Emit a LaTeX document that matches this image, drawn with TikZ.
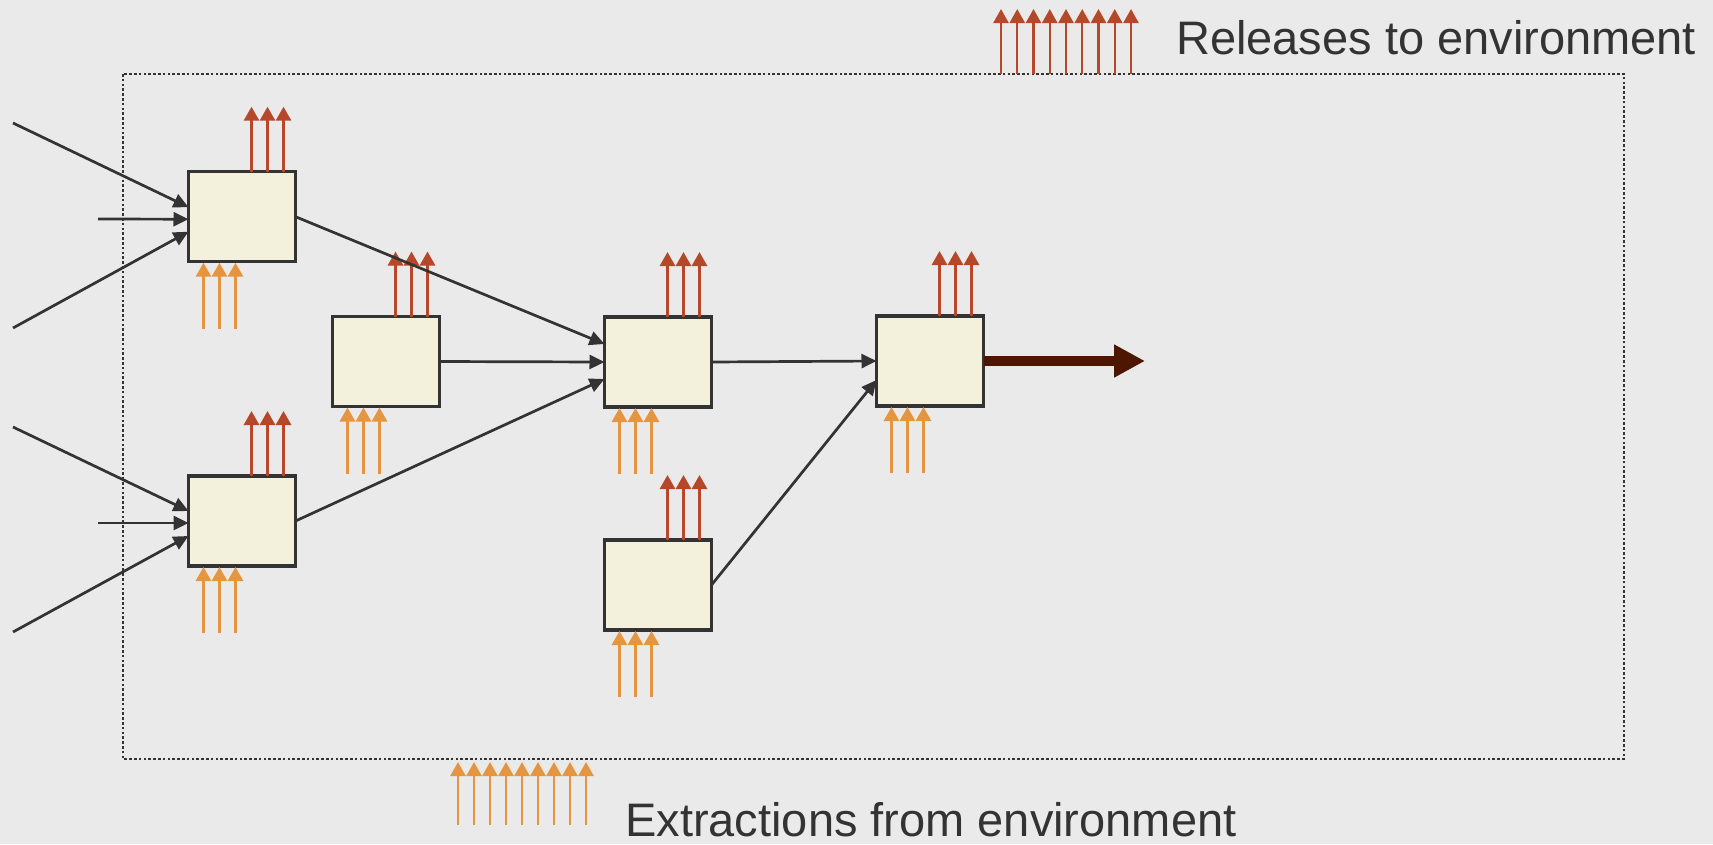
\documentclass[tikz,border=0pt]{standalone}
\usepackage{fontspec}
\setmainfont{Liberation Sans}
\usetikzlibrary{arrows.meta,calc}
\definecolor{bgc}{RGB}{234,234,234}
\definecolor{boxfill}{RGB}{243,241,220}
\definecolor{ink}{RGB}{51,51,51}
\definecolor{relc}{RGB}{181,71,42}
\definecolor{extc}{RGB}{229,148,64}
\definecolor{prodc}{RGB}{76,22,0}
\tikzset{
  procbox/.style={draw=ink, fill=boxfill, line width=3.2pt, minimum width=107pt, minimum height=90pt, inner sep=0pt, outer sep=0pt},
  flow/.style={draw=ink, line width=2.7pt, -{Triangle[length=15pt,width=14pt]}},
  rel/.style={draw=relc, line width=3pt, -{Triangle[length=14pt,width=15pt]}},
  ext/.style={draw=extc, line width=3pt, -{Triangle[length=14pt,width=15pt]}},
  rellegend/.style={draw=relc, line width=2.4pt, -{Triangle[length=14pt,width=15pt]}},
  extlegend/.style={draw=extc, line width=2.4pt, -{Triangle[length=14pt,width=15pt]}},
  product/.style={draw=prodc, line width=9.5pt, -{Triangle[length=31pt,width=31pt]}},
  boundary/.style={draw=ink, line width=2.6pt, dash pattern=on 2.6pt off 2.2pt},
  legendtext/.style={text=ink, inner sep=0pt, anchor=base west, font=\fontsize{47}{56}\selectfont}
}
\begin{document}
\begin{tikzpicture}[x=1pt,y=-1pt]
  \fill[bgc] (0,0) rectangle (1713,844);
  \useasboundingbox (0,0) rectangle (1713,844);

  % system boundary
  \draw[boundary] (123,74) rectangle (1624,759);

  % process boxes
  \node[procbox] (A1) at (242,216.7) {};
  \node[procbox] (B)  at (386,361.5) {};
  \node[procbox] (A2) at (242,521) {};
  \node[procbox] (C)  at (658,362) {};
  \node[procbox] (D)  at (658,585) {};
  \node[procbox] (E)  at (930,361) {};

  % releases (above) and extractions (below) for each box
  \foreach \b in {A1,B,A2,C,D,E}{
    \foreach \dx in {63,79,95}{
      \draw[rel] ([xshift=\dx pt]\b.north west) -- ++(0,-65);
    }
    \foreach \dx in {15,31,47}{
      \draw[ext] ([xshift=\dx pt, yshift=-67pt]\b.south west) -- ([xshift=\dx pt, yshift=-1pt]\b.south west);
    }
  }

  % inputs from outside
  \coordinate (i1) at (13,123);
  \coordinate (i2) at (98,219);
  \coordinate (i3) at (13,328);
  \coordinate (i4) at (13,427);
  \coordinate (i5) at (98,523);
  \coordinate (i6) at (13,632);
  \draw[flow] (i1) -- ([yshift=9.5pt]A1.west);
  \draw[flow] (i2) -- ([yshift=-2.5pt]A1.west);
  \draw[flow] (i3) -- ([yshift=-15pt]A1.west);
  \draw[flow] (i4) -- ([yshift=10pt]A2.west);
  \draw[flow] (i5) -- ([yshift=-2pt]A2.west);
  \draw[flow] (i6) -- ([yshift=-15pt]A2.west);

  % internal flows
  \draw[flow] (A1.east) -- ([yshift=18pt]C.west);
  \draw[flow] (B.east) -- (C.west);
  \draw[flow] (A2.east) -- ([yshift=-17pt]C.west);
  \draw[flow] (C.east) -- (E.west);
  \draw[flow] (D.east) -- ([yshift=-19pt]E.west);

  % product
  \coordinate (out) at (1145,361);
  \draw[product] (E.east) -- (out);

  % legends
  \foreach \i in {0,...,8}{
    \draw[rellegend] (1001+16.25*\i,74) -- (1001+16.25*\i,9);
    \draw[extlegend] (458+16*\i,825) -- (458+16*\i,762);
  }
  \node[legendtext] (reltext) at (1176,54) {Releases to environment};
  \node[legendtext] (exttext) at (625,836.7) {Extractions from environment};
\end{tikzpicture}
\end{document}
